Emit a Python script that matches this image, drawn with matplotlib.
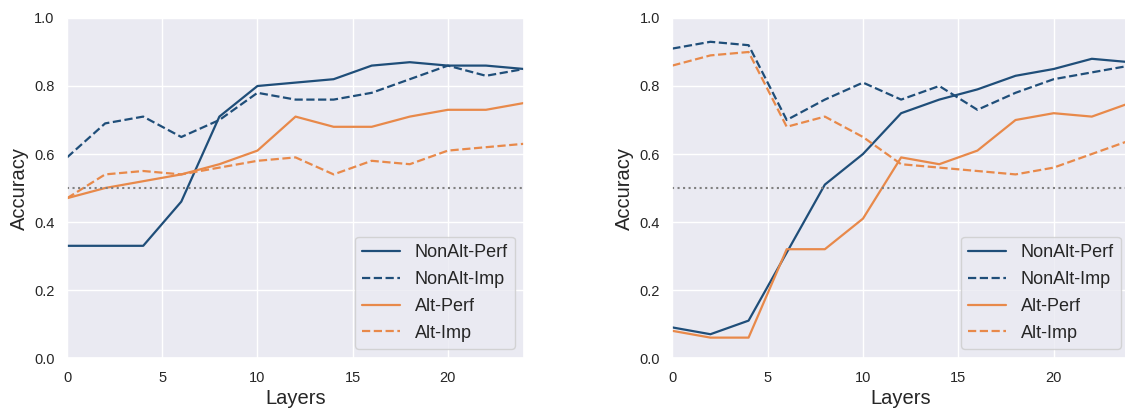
import matplotlib
matplotlib.use('Agg')
import matplotlib.pyplot as plt
import seaborn as sns

# layers probed
layers = [0, 2, 4, 6, 8, 10, 12, 14, 16, 18, 20, 22, 24]

# left panel
left_nonalt_perf = [0.33, 0.33, 0.33, 0.46, 0.71, 0.80, 0.81, 0.82, 0.86, 0.87, 0.86, 0.86, 0.85]
left_nonalt_imp = [0.59, 0.69, 0.71, 0.65, 0.70, 0.78, 0.76, 0.76, 0.78, 0.82, 0.86, 0.83, 0.85]
left_alt_perf = [0.47, 0.50, 0.52, 0.54, 0.57, 0.61, 0.71, 0.68, 0.68, 0.71, 0.73, 0.73, 0.75]
left_alt_imp = [0.47, 0.54, 0.55, 0.54, 0.56, 0.58, 0.59, 0.54, 0.58, 0.57, 0.61, 0.62, 0.63]

# right panel
right_nonalt_perf = [0.09, 0.07, 0.11, 0.31, 0.51, 0.60, 0.72, 0.76, 0.79, 0.83, 0.85, 0.88, 0.87]
right_nonalt_imp = [0.91, 0.93, 0.92, 0.70, 0.76, 0.81, 0.76, 0.80, 0.73, 0.78, 0.82, 0.84, 0.86]
right_alt_perf = [0.08, 0.06, 0.06, 0.32, 0.32, 0.41, 0.59, 0.57, 0.61, 0.70, 0.72, 0.71, 0.75]
right_alt_imp = [0.86, 0.89, 0.90, 0.68, 0.71, 0.65, 0.57, 0.56, 0.55, 0.54, 0.56, 0.60, 0.64]

chance = 0.5

blue = '#1f4e79'
orange = '#e8894a'

sns.set_theme(style='darkgrid')
plt.rcParams['font.family'] = ['Liberation Sans', 'DejaVu Sans']

fig = plt.figure(figsize=(11.25, 4.08), dpi=100)
ax1 = fig.add_axes([0.0596, 0.1225, 0.4062, 0.8334])
# right panel runs slightly past the figure edge, as in the cropped original
ax2 = fig.add_axes([0.5976, 0.1225, 0.4068, 0.8334])

panels = [
    (ax1, left_nonalt_perf, left_nonalt_imp, left_alt_perf, left_alt_imp),
    (ax2, right_nonalt_perf, right_nonalt_imp, right_alt_perf, right_alt_imp),
]

for ax, nperf, nimp, aperf, aimp in panels:
    ax.plot(layers, nperf, color=blue, lw=1.6, ls='-', label='NonAlt-Perf')
    ax.plot(layers, nimp, color=blue, lw=1.6, ls='--', label='NonAlt-Imp')
    ax.plot(layers, aperf, color=orange, lw=1.6, ls='-', label='Alt-Perf')
    ax.plot(layers, aimp, color=orange, lw=1.6, ls='--', label='Alt-Imp')
    ax.axhline(chance, color='gray', ls=':', lw=1.5)
    ax.set_xlim(0, 24)
    ax.set_ylim(0, 1.0)
    ax.set_xticks([0, 5, 10, 15, 20])
    ax.set_yticks([0.0, 0.2, 0.4, 0.6, 0.8, 1.0])
    ax.tick_params(labelsize=10.5, pad=3)
    ax.set_xlabel('Layers', fontsize=14.5, labelpad=3)
    ax.set_ylabel('Accuracy', fontsize=14.5, labelpad=4)
    ax.legend(loc='lower right', fontsize=13, handlelength=2.1, labelspacing=0.55)

fig.savefig('out.png', dpi=100)
